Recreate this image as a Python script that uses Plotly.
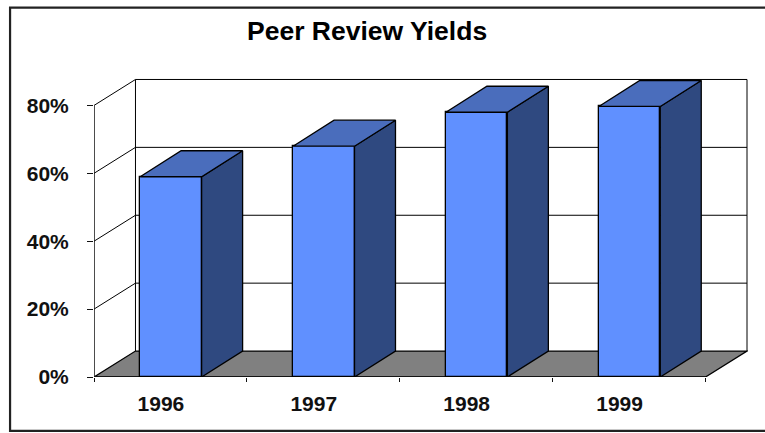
import plotly.graph_objects as go

categories = ["1996", "1997", "1998", "1999"]
values = [59, 68, 78, 79.7]
y_ticks = [0, 20, 40, 60, 80]
y_labels = ["0%", "20%", "40%", "60%", "80%"]

W, H = 765, 433
L, R, T, B = 94, 748.5, 70, 377.5
CAT_PX = 153.0
PCT_PX = 3.4
DX = 41.5 / CAT_PX          # depth shift in category units
DY = 26 / PCT_PX            # depth shift in percent units
BAR_W = 61.5 / CAT_PX
BAR_DX = 41 / CAT_PX
FONT = "Liberation Sans, Arial, sans-serif"
FRONT, TOP, SIDE, FLOOR = "#6090FF", "#4A6DBC", "#2F4980", "#808080"

xmax = (R - L) / CAT_PX
ymax = (B - T) / PCT_PX
centers = [i + 0.503 for i in range(len(categories))]

fig = go.Figure()
fig.add_trace(go.Bar(x=centers, y=values, width=BAR_W,
                     marker=dict(color=FRONT, line=dict(color="#000", width=1.3)),
                     hoverinfo="skip", showlegend=False))

for c, v in zip(centers, values):
    x0, x1 = c - BAR_W / 2, c + BAR_W / 2
    fig.add_trace(go.Scatter(
        x=[x1, x1 + BAR_DX, x1 + BAR_DX, x1, x1],
        y=[0, DY, v + DY, v, 0],
        mode="lines", fill="toself", fillcolor=SIDE,
        line=dict(color="#000", width=1.3), hoverinfo="skip", showlegend=False))
    fig.add_trace(go.Scatter(
        x=[x0, x0 + BAR_DX, x1 + BAR_DX, x1, x0],
        y=[v, v + DY, v + DY, v, v],
        mode="lines", fill="toself", fillcolor=TOP,
        line=dict(color="#000", width=1.3), hoverinfo="skip", showlegend=False))

shapes = []
n = len(categories)
# floor
shapes.append(dict(type="path", layer="below", xref="x", yref="y",
                   path=f"M0,0 L{DX},{DY} L{n + DX},{DY} L{n},0 Z",
                   fillcolor=FLOOR, line=dict(color="#000", width=1.3)))
# walls and gridlines
for t in y_ticks:
    if t > 0:
        shapes.append(dict(type="line", layer="below", xref="x", yref="y",
                           x0=0, y0=t, x1=DX, y1=t + DY, line=dict(color="#000", width=1)))
        shapes.append(dict(type="line", layer="below", xref="x", yref="y",
                           x0=DX, y0=t + DY, x1=n + DX, y1=t + DY, line=dict(color="#000", width=1)))
shapes.append(dict(type="line", layer="below", xref="x", yref="y",
                   x0=DX, y0=DY, x1=DX, y1=y_ticks[-1] + DY, line=dict(color="#000", width=1)))
shapes.append(dict(type="line", layer="below", xref="x", yref="y",
                   x0=n + DX, y0=DY, x1=n + DX, y1=y_ticks[-1] + DY, line=dict(color="#000", width=1)))
shapes.append(dict(type="line", layer="below", xref="x", yref="y",
                   x0=0, y0=0, x1=0, y1=y_ticks[-1], line=dict(color="#111", width=1.5)))
shapes.append(dict(type="line", layer="below", xref="x", yref="y",
                   x0=0, y0=0, x1=n, y1=0, line=dict(color="#111", width=1.5)))

# outer chart border
px = lambda p: (p - L) / (R - L)
py = lambda p: (B - p) / (B - T)
shapes.append(dict(type="rect", layer="below", xref="paper", yref="paper",
                   x0=px(10), x1=px(775), y0=py(431.5), y1=py(7.5),
                   line=dict(color="#222", width=2.2)))

fig.update_layout(
    width=W, height=H, autosize=False,
    margin=dict(l=L, r=W - R, t=T, b=H - B, pad=0),
    paper_bgcolor="#fff", plot_bgcolor="rgba(0,0,0,0)",
    font=dict(family=FONT, size=20, color="#000"),
    shapes=shapes, showlegend=False,
    bargap=0,
    xaxis=dict(range=[0, xmax], showgrid=False, zeroline=False, showline=False,
               tickmode="array",
               tickvals=[c - 10 / CAT_PX for c in centers], ticktext=categories,
               ticks="outside", ticklen=0, tickwidth=0,
               tickfont=dict(family=FONT, size=21, color="#111", weight="bold"),
               ticklabelstandoff=8,
               minor=dict(tick0=0, dtick=1, ticks="outside", ticklen=4, tickwidth=1, tickcolor="#111",
                          showgrid=False)),
    yaxis=dict(range=[0, ymax], showgrid=False, zeroline=False, showline=False,
               tickmode="array", tickvals=y_ticks, ticktext=y_labels,
               ticks="outside", ticklen=6, tickwidth=1, tickcolor="#111",
               tickfont=dict(family=FONT, size=21, color="#111", weight="bold"),
               ticklabelstandoff=14),
    annotations=[dict(text="<b>Peer Review Yields</b>", xref="paper", yref="paper",
                      x=px(367), y=py(31), xanchor="center", yanchor="middle",
                      showarrow=False, font=dict(family=FONT, size=26.5, color="#000"))],
)

fig.write_html("out.html", config={"displayModeBar": False},
               post_script="document.body.style.margin='0';document.body.style.overflow='hidden';")
